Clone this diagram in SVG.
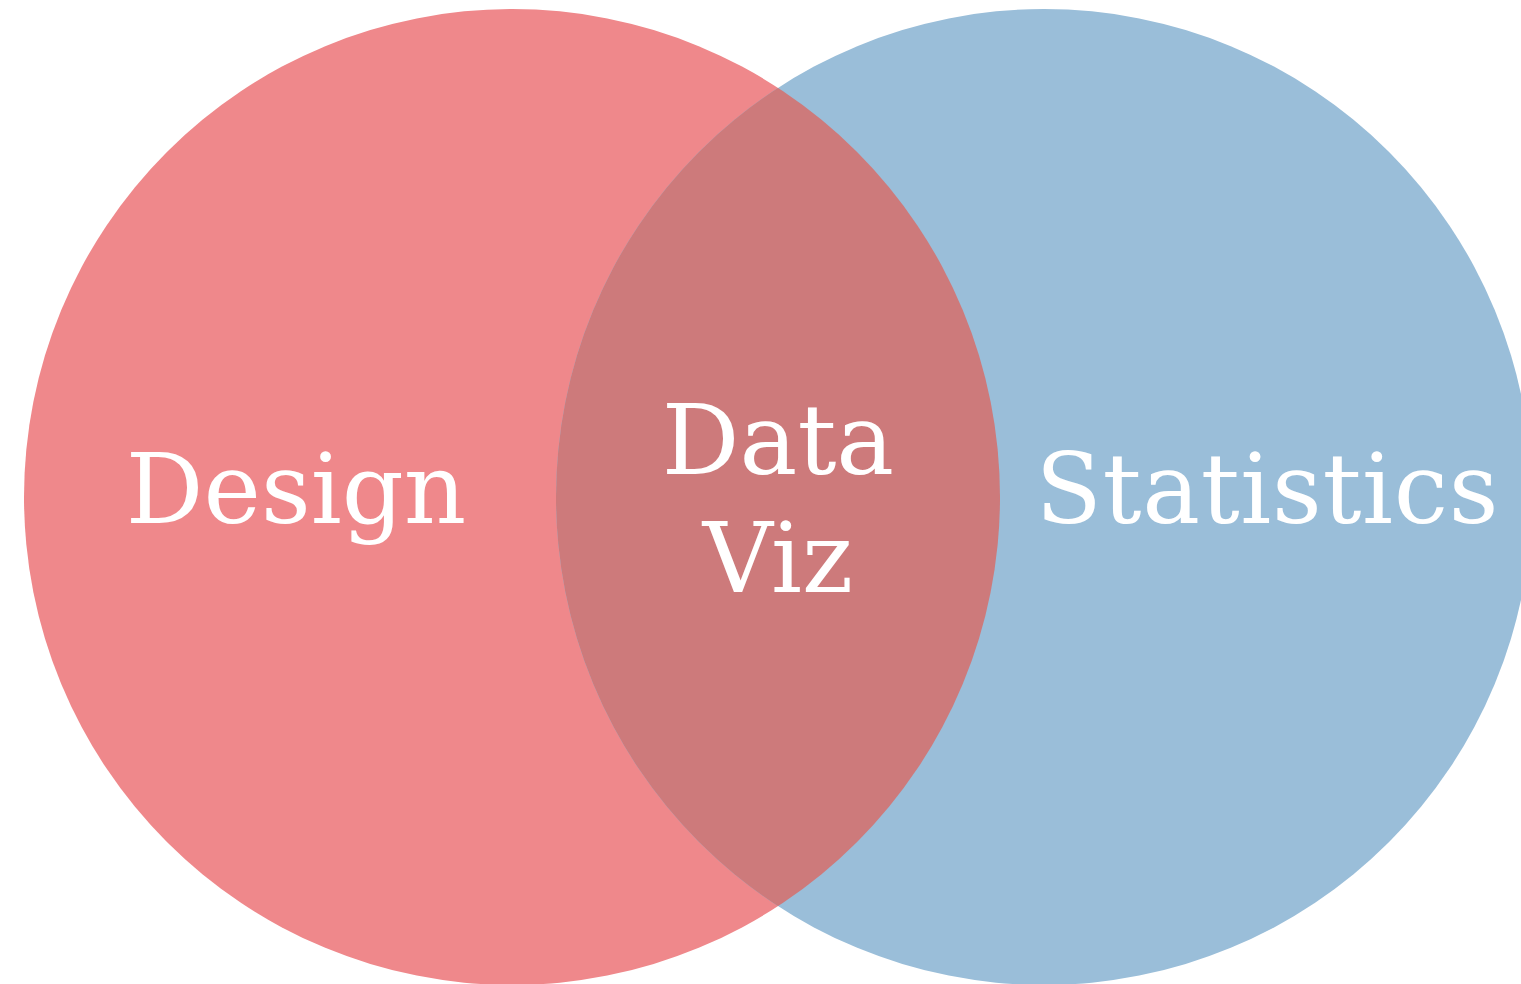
<svg xmlns="http://www.w3.org/2000/svg" width="1521" height="984" viewBox="0 0 1521 984">
<style>
.lbl{font-family:"DejaVu Serif","Liberation Serif",serif;font-size:97px;fill:#ffffff;text-anchor:middle}
</style>
<defs>
<clipPath id="clipL"><circle cx="512" cy="497" r="488"/></clipPath>
</defs>
<rect width="1521" height="984" fill="#ffffff"/>
<g id="design">
<circle cx="512" cy="497" r="488" fill="#EF888B"/>
</g>
<g id="statistics">
<circle cx="1044" cy="497" r="488" fill="#9ABED9"/>
</g>
<g id="dataviz">
<circle cx="1044" cy="497" r="488" fill="#CD7A7B" clip-path="url(#clipL)"/>
</g>
<g id="connectors"></g>
<g id="labels">
<text class="lbl" x="296" y="523">Design</text>
<text class="lbl" x="1267" y="523" textLength="463" lengthAdjust="spacing">Statistics</text>
<text class="lbl" x="778" y="474">Data</text>
<text class="lbl" x="778" y="592">Viz</text>
</g>
</svg>
